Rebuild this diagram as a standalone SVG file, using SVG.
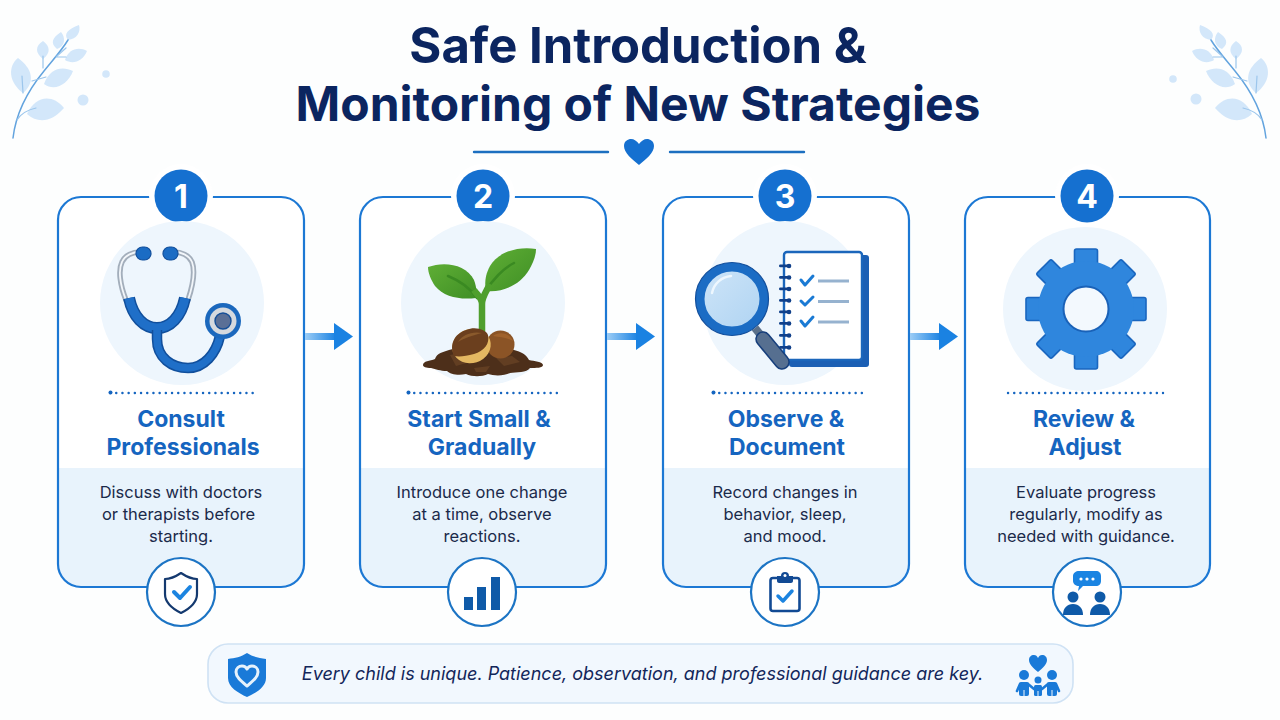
<svg xmlns="http://www.w3.org/2000/svg" width="1280" height="720" viewBox="0 0 1280 720">
<style>
text{font-family:Inter,"Noto Sans","Liberation Sans",sans-serif}
.title{font-size:48px;font-weight:700;fill:#0b2560;text-anchor:middle}
.head{font-size:23px;font-weight:700;fill:#1565c0;text-anchor:middle}
.body{font-size:16.5px;font-weight:400;fill:#1b2a4a;text-anchor:middle}
.num{font-size:32px;font-weight:700;fill:#fff;text-anchor:middle}
.note{font-size:18px;font-style:italic;font-weight:400;fill:#12265a;text-anchor:middle}
.frame{fill:#fff}
.edge{fill:none;stroke:#1c78d4;stroke-width:2.200}
.lower{fill:#e8f3fc}
.disc{fill:#eef6fd}
.badge{fill:#1570d0}
.foot{fill:#fff;stroke:#1c74c4;stroke-width:2.200}
.dots{fill:none;stroke:#1565c0;stroke-width:2.400;stroke-linecap:round;stroke-dasharray:.1 6.100}
.leaf{fill:#d3e7fa}
.vein{fill:none;stroke:#62a3de;stroke-width:1.500;stroke-linecap:round}
.subvein{fill:none;stroke:#9cc6ec;stroke-width:1.200;stroke-linecap:round}
.rule{stroke:#1c6fc0;stroke-width:2.400;stroke-linecap:round}
</style>
<defs>
<linearGradient id="shaft" x1="0" x2="1" y1="0" y2="0"><stop offset="0" stop-color="#9ccdf6"/><stop offset="1" stop-color="#1a82e2"/></linearGradient>
<linearGradient id="lens" x1="0" x2="1" y1="0" y2="1"><stop offset="0" stop-color="#cfe5f8"/><stop offset="1" stop-color="#aed3f2"/></linearGradient>
<linearGradient id="leafFill" x1="0" x2="1" y1="0" y2="1"><stop offset="0" stop-color="#5fae35"/><stop offset="1" stop-color="#3f8f25"/></linearGradient>
<g id="sprig">
<path class="leaf" d="M23,93C8,82 8,66 18,58C32,68 36,82 23,93Z"/>
<path class="leaf" d="M27,114C35,96 52,93 64,108C52,122 38,124 27,114Z"/>
<path class="leaf" d="M44,84C50,68 62,66 73,71C68,84 55,92 44,84Z"/>
<path class="leaf" d="M65,60C68,49 79,46 87,51C83,61 73,65 65,60Z"/>
<path class="leaf" d="M43,59C35,53 35,46 43,41C50,46 51,53 43,59Z"/>
<path class="leaf" d="M57,49C50,43 52,38 61,32C66,38 65,46 57,49Z"/>
<path class="leaf" d="M68,40C63,34 68,29 79,25C81,32 77,39 68,40Z"/>
<path class="vein" d="M13,138C16,112 30,88 44,71C52,61 62,50 68,40"/>
<path class="subvein" d="M17,120C20,115 27,110 36,108M23,93L22,76M32,81L46,77M43,68L43,56M57,56L66,48M56,57L66,57"/>
</g>
</defs>
<rect width="1280" height="720" fill="#fdfefe"/>

<g id="header">
<text class="title" x="638" y="63" style="font-size:49px">Safe Introduction &amp;</text>
<text class="title" x="638" y="121">Monitoring of New Strategies</text>
<line class="rule" x1="474" y1="152" x2="608" y2="152"/>
<line class="rule" x1="670" y1="152" x2="804" y2="152"/>
<path fill="#1570d0" d="M639,165C632,159 624,153 624,146C624,141 628,139 631,139C634,139 637,141 639,144C641,141 644,139 647,139C650,139 654,141 654,146C654,153 646,159 639,165Z"/>
</g>

<g id="sprig-left">
<use href="#sprig"/>
<circle class="leaf" cx="106" cy="74" r="3.800"/>
<circle class="leaf" cx="83" cy="100" r="5.500"/>
</g>
<g id="sprig-right">
<use href="#sprig" transform="translate(1279,0) scale(-1,1)"/>
<circle class="leaf" cx="1173" cy="79" r="3.800"/>
<circle class="leaf" cx="1196" cy="99" r="5.500"/>
</g>

<!-- Step 1 -->
<g id="step-1">
<rect class="frame" x="58" y="197" width="246" height="390" rx="23"/>
<path class="lower" d="M59,468H303V564A22,22 0 0 1 281,586H81A22,22 0 0 1 59,564Z"/>
<rect class="edge" x="58" y="197" width="246" height="390" rx="23"/>
<circle cx="181" cy="196" r="32" fill="#fff"/>
<circle class="badge" cx="181" cy="196" r="26.500"/>
<text class="num" x="181" y="208">1</text>
<circle class="disc" cx="182" cy="303" r="82"/>
<!-- stethoscope -->
<path fill="none" stroke="#a3aebb" stroke-width="5.500" stroke-linecap="round" d="M126,300C120,285 118,270 122,262C125,255 133,252 140,252"/>
<path fill="none" stroke="#f2f6fa" stroke-width="1.800" d="M126,300C120,285 118,270 122,262C125,255 133,252 140,252"/>
<path fill="none" stroke="#a3aebb" stroke-width="5.500" stroke-linecap="round" d="M188,300C193,285 195,270 192,262C189,255 181,252 174,252"/>
<path fill="none" stroke="#f2f6fa" stroke-width="1.800" d="M188,300C193,285 195,270 192,262C189,255 181,252 174,252"/>
<rect x="136" y="247" width="15" height="13" rx="6.500" fill="#1b6cc4" stroke="#114f9c" stroke-width="1.200"/>
<rect x="163" y="247" width="15" height="13" rx="6.500" fill="#1b6cc4" stroke="#114f9c" stroke-width="1.200"/>
<path fill="none" stroke="#114f9c" stroke-width="12" d="M129,298C133,317 144,328 157,328C170,328 181,317 185,298"/>
<path fill="none" stroke="#1f6fc8" stroke-width="9" d="M129,298C133,317 144,328 157,328C170,328 181,317 185,298"/>
<path fill="none" stroke="#114f9c" stroke-width="10.500" d="M157,330V339C157,358 172,368 188,368C204,368 216,354 220,336"/>
<path fill="none" stroke="#1f6fc8" stroke-width="7.500" d="M157,330V339C157,358 172,368 188,368C204,368 216,354 220,336"/>
<circle cx="223" cy="321" r="18" fill="#1b68bd"/>
<circle cx="223" cy="321" r="13.500" fill="#d5d9de"/>
<circle cx="223" cy="321" r="8" fill="#5a6f96" stroke="#154e97" stroke-width="1.400"/>
<line class="dots" x1="110" y1="393" x2="257" y2="393"/>
<circle cx="110.500" cy="392.500" r="2" fill="#1565c0"/>
<text class="head" x="181" y="426.500">Consult</text>
<text class="head" x="183" y="454.500">Professionals</text>
<text class="body" x="181" y="498">Discuss with doctors</text>
<text class="body" x="178.500" y="520">or therapists before</text>
<text class="body" x="181" y="542">starting.</text>
<circle class="foot" cx="181" cy="592" r="34"/>
<path fill="none" stroke="#14396f" stroke-width="2.200" stroke-linejoin="round" d="M181,573C175,577 170,579 165,579V594C165,603 173,609 181,613C189,609 197,603 197,594V579C192,579 187,577 181,573Z"/>
<path fill="none" stroke="#1c84e0" stroke-width="4" stroke-linecap="round" stroke-linejoin="round" d="M174,592L180,598L190,587"/>
</g>

<!-- Step 2 -->
<g id="step-2">
<rect class="frame" x="360" y="197" width="246" height="390" rx="23"/>
<path class="lower" d="M361,468H605V564A22,22 0 0 1 583,586H383A22,22 0 0 1 361,564Z"/>
<rect class="edge" x="360" y="197" width="246" height="390" rx="23"/>
<circle cx="483" cy="196" r="32" fill="#fff"/>
<circle class="badge" cx="483" cy="196" r="26.500"/>
<text class="num" x="483" y="208">2</text>
<circle class="disc" cx="483" cy="303" r="82"/>
<!-- sprout in a mound of soil -->
<path fill="url(#leafFill)" d="M428,267C444,261 466,264 474,280C477,288 477,294 476,298C460,300 444,297 435,286C431,280 428,273 428,267Z"/>
<path fill="url(#leafFill)" d="M536,249C518,246 498,252 490,266C484,277 485,286 486,291C503,293 521,284 529,270C533,263 536,256 536,249Z"/>
<path fill="none" stroke="#3a8a22" stroke-width="2.500" stroke-linecap="round" d="M448,276C458,280 470,288 477,298M514,263C504,268 492,280 486,291"/>
<path fill="none" stroke="#4f9f2d" stroke-width="6.500" stroke-linejoin="round" d="M482,334V304C482,298 478,296 474,290M482,304C482,297 486,292 490,284"/>
<path fill="#4d2f1a" d="M423,365C423,361 430,361 435,359C437,353 443,352 449,350C470,344 495,345 514,350C521,352 526,354 529,360C534,361 543,362 543,365C543,368 536,368 530,368C527,373 516,372 510,373C504,376 494,376 488,374C482,377 472,377 466,374C458,376 450,374 447,371C440,371 436,369 431,368C426,368 423,367 423,365Z"/>
<path fill="#6b4426" d="M450,355L462,353L470,362L456,366ZM496,358L512,356L520,362L504,366ZM474,368L490,366L486,372L476,372Z" opacity=".7"/>
<circle cx="500.500" cy="344.500" r="14" fill="#8b5426"/>
<path fill="#a9682f" d="M493,336C499,331 510,333 513,341C508,338 500,337 493,336Z" opacity=".7"/>
<ellipse cx="471.500" cy="346" rx="19.500" ry="17" fill="#e4b862" transform="rotate(-18 471.500 346)"/>
<path fill="#6b3f1e" d="M454,356C449,345 454,334 466,330C476,326 486,330 488,335C490,344 484,351 474,354C466,356 460,357 454,356Z"/>
<path fill="#8a5a2c" d="M458,342C462,335 472,331 482,333C474,335 464,338 458,342Z"/>
<line class="dots" x1="408" y1="393" x2="561" y2="393"/>
<circle cx="408.500" cy="392.500" r="2" fill="#1565c0"/>
<text class="head" x="479" y="426.500">Start Small &amp;</text>
<text class="head" x="482" y="454.500">Gradually</text>
<text class="body" x="482" y="498">Introduce one change</text>
<text class="body" x="482" y="520">at a time, observe</text>
<text class="body" x="482" y="542">reactions.</text>
<circle class="foot" cx="482" cy="592" r="34"/>
<g fill="#0f5aa8">
<rect x="464" y="597" width="9" height="13"/>
<rect x="477" y="587" width="9" height="23"/>
<rect x="491" y="577" width="9" height="33"/>
</g>
</g>

<!-- Step 3 -->
<g id="step-3">
<rect class="frame" x="663" y="197" width="246" height="390" rx="23"/>
<path class="lower" d="M664,468H908V564A22,22 0 0 1 886,586H686A22,22 0 0 1 664,564Z"/>
<rect class="edge" x="663" y="197" width="246" height="390" rx="23"/>
<circle cx="785" cy="196" r="32" fill="#fff"/>
<circle class="badge" cx="785" cy="196" r="26.500"/>
<text class="num" x="785" y="208">3</text>
<circle class="disc" cx="785" cy="303" r="82"/>
<!-- notebook with checklist and magnifier -->
<rect x="789" y="255" width="80" height="112" rx="3" fill="#1b5fb4"/>
<rect x="784" y="252" width="78" height="108" rx="3" fill="#fff" stroke="#1b66bb" stroke-width="2.400"/>
<g fill="#10408a">
<rect x="779" y="264.500" width="12" height="2.800" rx="1.400"/><circle cx="789" cy="266" r="2.300"/>
<rect x="779" y="276" width="12" height="2.800" rx="1.400"/><circle cx="789" cy="277.500" r="2.300"/>
<rect x="779" y="287.500" width="12" height="2.800" rx="1.400"/><circle cx="789" cy="289" r="2.300"/>
<rect x="779" y="299" width="12" height="2.800" rx="1.400"/><circle cx="789" cy="300.500" r="2.300"/>
<rect x="779" y="310.500" width="12" height="2.800" rx="1.400"/><circle cx="789" cy="312" r="2.300"/>
<rect x="779" y="322" width="12" height="2.800" rx="1.400"/><circle cx="789" cy="323.500" r="2.300"/>
<rect x="779" y="334" width="12" height="2.800" rx="1.400"/><circle cx="789" cy="335.500" r="2.300"/>
<rect x="779" y="346" width="12" height="2.800" rx="1.400"/><circle cx="789" cy="347.500" r="2.300"/>
</g>
<g fill="none" stroke="#1a7ad4" stroke-width="3" stroke-linecap="round" stroke-linejoin="round">
<path d="M801,280L805,285L813,276"/>
<path d="M801,301L805,305L813,297"/>
<path d="M801,321L805,326L813,317"/>
</g>
<g stroke="#96b2cf" stroke-width="3">
<line x1="818" y1="281" x2="849" y2="281"/>
<line x1="818" y1="301.500" x2="849" y2="301.500"/>
<line x1="818" y1="322" x2="849" y2="322"/>
</g>
<line x1="755" y1="328" x2="763" y2="338" stroke="#5b7089" stroke-width="8"/>
<line x1="763" y1="339" x2="782" y2="362" stroke="#173f7c" stroke-width="15.500" stroke-linecap="round"/>
<line x1="763" y1="339" x2="782" y2="362" stroke="#566f90" stroke-width="12.500" stroke-linecap="round"/>
<circle cx="732" cy="299" r="32" fill="url(#lens)" stroke="#1b6cc4" stroke-width="9"/>
<circle cx="732" cy="299" r="36.500" fill="none" stroke="#134f9c" stroke-width="1.200"/>
<path fill="none" stroke="#eef7fe" stroke-width="2.500" stroke-linecap="round" d="M712,293C714,283 722,277 731,276"/>
<line class="dots" x1="713" y1="393" x2="862" y2="393"/>
<circle cx="713.500" cy="392.500" r="2" fill="#1565c0"/>
<text class="head" x="786" y="426.500">Observe &amp;</text>
<text class="head" x="787" y="454.500">Document</text>
<text class="body" x="785" y="498">Record changes in</text>
<text class="body" x="785" y="520">behavior, sleep,</text>
<text class="body" x="785" y="542">and mood.</text>
<circle class="foot" cx="785" cy="592" r="34"/>
<rect x="770.500" y="578" width="29" height="33" rx="2.500" fill="none" stroke="#124a94" stroke-width="2.600"/>
<path fill="#124a94" d="M777,581V576H781A4,4 0 0 1 789,576H793V581C793,582 792,583 791,583H779C778,583 777,582 777,581Z"/>
<circle cx="785" cy="575.500" r="1.500" fill="#fff"/>
<path fill="none" stroke="#1c84e0" stroke-width="3.500" stroke-linecap="round" stroke-linejoin="round" d="M778,596L783,601L792,591"/>
</g>

<!-- Step 4 -->
<g id="step-4">
<rect class="frame" x="965" y="197" width="245" height="390" rx="23"/>
<path class="lower" d="M966,468H1209V564A22,22 0 0 1 1187,586H988A22,22 0 0 1 966,564Z"/>
<rect class="edge" x="965" y="197" width="245" height="390" rx="23"/>
<circle cx="1087" cy="196" r="32" fill="#fff"/>
<circle class="badge" cx="1087" cy="196" r="26.500"/>
<text class="num" x="1087" y="208">4</text>
<circle class="disc" cx="1085" cy="309" r="82"/>
<!-- gear: eight teeth around a round hole -->
<g transform="translate(1086 309)">
<g fill="#2f86dd" stroke="#1a66bf" stroke-width="1.600" stroke-linejoin="round">
<rect x="-11.500" y="-60" width="23" height="120" rx="2"/>
<rect x="-10.500" y="-60" width="21" height="120" rx="2" transform="rotate(45)"/>
<rect x="-11.500" y="-60" width="23" height="120" rx="2" transform="rotate(90)"/>
<rect x="-10.500" y="-60" width="21" height="120" rx="2" transform="rotate(135)"/>
</g>
<circle r="48" fill="#2f86dd"/>
<circle r="22.500" fill="#f3f9fe" stroke="#1a62b8" stroke-width="2"/>
</g>
<line class="dots" x1="1008" y1="393" x2="1163" y2="393"/>
<text class="head" x="1084" y="426.500">Review &amp;</text>
<text class="head" x="1085" y="454.500">Adjust</text>
<text class="body" x="1086" y="498">Evaluate progress</text>
<text class="body" x="1086" y="520">regularly, modify as</text>
<text class="body" x="1086" y="542">needed with guidance.</text>
<circle class="foot" cx="1087" cy="592" r="34"/>
<path fill="#1a84e2" d="M1079,571H1096C1099,571 1101,573 1101,576V581C1101,584 1099,586 1096,586H1083L1078,591L1079,586C1076,586 1073,584 1073,581V576C1073,573 1076,571 1079,571Z"/>
<g fill="#fff"><circle cx="1081" cy="579" r="1.600"/><circle cx="1087" cy="579" r="1.600"/><circle cx="1093" cy="579" r="1.600"/></g>
<g fill="#0f5aa8">
<circle cx="1073" cy="597" r="5.500"/>
<path d="M1063,615C1063,608 1067,604 1073,604C1079,604 1083,608 1083,615Z"/>
<circle cx="1100" cy="597" r="5.500"/>
<path d="M1090,615C1090,608 1094,604 1100,604C1106,604 1110,608 1110,615Z"/>
</g>
</g>

<!-- Arrows between steps -->
<g id="connectors">
<rect x="305" y="333" width="31" height="7" fill="url(#shaft)"/>
<path fill="#1a82e2" d="M334,323L353,336.500L334,350Z"/>
<rect x="607" y="333" width="31" height="7" fill="url(#shaft)"/>
<path fill="#1a82e2" d="M636,323L655,336.500L636,350Z"/>
<rect x="910" y="333" width="31" height="7" fill="url(#shaft)"/>
<path fill="#1a82e2" d="M939,323L958,336.500L939,350Z"/>
</g>

<g id="note">
<rect x="208" y="644" width="865" height="59" rx="20" fill="#f2f8fe" stroke="#cfe2f4" stroke-width="1.600"/>
<path fill="#1a7ad8" d="M247,653C241,657 235,658 228,659V678C228,687 238,693 247,697C256,693 266,687 266,678V659C259,658 253,657 247,653Z"/>
<path fill="none" stroke="#e6f2fc" stroke-width="3" stroke-linejoin="round" d="M247,686C241,681 236,677 236,672C236,668 239,666 242,666C244,666 246,667 247,669C248,667 250,666 252,666C255,666 258,668 258,672C258,677 253,681 247,686Z"/>
<text class="note" x="642.500" y="680">Every child is unique. Patience, observation, and professional guidance are key.</text>
<g fill="#1a7ad8">
<path d="M1038,672C1033,668 1029,664 1029,660C1029,657 1031,655 1034,655C1036,655 1037,656 1038,658C1039,656 1040,655 1042,655C1045,655 1047,657 1047,660C1047,664 1043,668 1038,672Z"/>
<circle cx="1024" cy="675" r="5"/>
<circle cx="1052" cy="675" r="5"/>
<circle cx="1038" cy="680" r="3.500"/>
<rect x="1019" y="682" width="10" height="14" rx="2"/>
<rect x="1047" y="682" width="10" height="14" rx="2"/>
<rect x="1034" y="685" width="8" height="11" rx="1.500"/>
</g>
<g fill="none" stroke="#1a7ad8" stroke-width="2.600" stroke-linecap="round">
<path d="M1020,684L1017,691"/>
<path d="M1056,684L1059,691"/>
<path d="M1028,684L1034,689"/>
<path d="M1048,684L1042,689"/>
</g>
<g stroke="#f2f8fe" stroke-width="1">
<line x1="1024" y1="690" x2="1024" y2="696"/>
<line x1="1052" y1="690" x2="1052" y2="696"/>
<line x1="1038" y1="691" x2="1038" y2="696"/>
</g>
</g>
</svg>
